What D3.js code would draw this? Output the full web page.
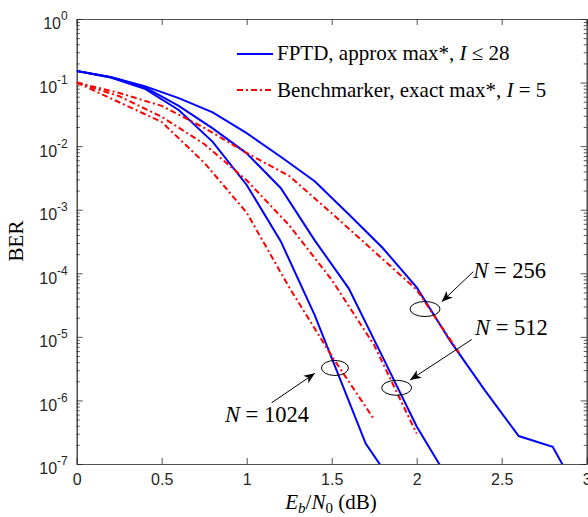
<!DOCTYPE html>
<html>
<head>
<meta charset="utf-8">
<script src="https://cdn.jsdelivr.net/npm/d3@7"></script>
<style>
  body { margin: 0; background: #fff; }
  svg { display: block; }
  .tick text { font-family: "Liberation Sans", Arial, sans-serif; fill: #262626; }
  .tex { font-family: "Liberation Serif", "Times New Roman", serif; fill: #000; }
</style>
</head>
<body>
<div id="chart"></div>
<script>
// FPTD, approx max*, I <= 28 (blue, solid)
const snrFptd256 = [0, 0.2, 0.4, 0.6, 0.8, 1.0, 1.2, 1.4, 1.6, 1.8, 2.0, 2.2, 2.4, 2.6, 2.8, 3.0];
const berFptd256 = [0.152, 0.123, 0.088, 0.057, 0.034, 0.016, 0.0068, 0.0028, 8.5e-4, 2.5e-4, 6e-5, 8.4e-6, 1.45e-6, 2.75e-7, 1.87e-7, 2e-8];
const snrFptd512 = [0, 0.2, 0.4, 0.6, 0.8, 1.0, 1.2, 1.4, 1.6, 1.8, 2.0, 2.2];
const berFptd512 = [0.152, 0.121, 0.085, 0.043, 0.019, 0.0077, 0.0022, 3.3e-4, 5.8e-5, 4.8e-6, 3.9e-7, 5e-8];
const snrFptd1024 = [0, 0.2, 0.4, 0.6, 0.8, 1.0, 1.2, 1.4, 1.7, 1.8];
const berFptd1024 = [0.152, 0.12, 0.08, 0.037, 0.0117, 0.00245, 3.2e-4, 2.2e-5, 2.1e-7, 8.5e-8];

// Benchmarker, exact max*, I = 5 (red, dash-dot)
const snrBench256 = [0, 0.25, 0.5, 0.75, 1.0, 1.25, 1.5, 1.75, 2.0, 2.25];
const berBench256 = [0.1, 0.0686, 0.043, 0.0194, 0.0078, 0.0034, 8.8e-4, 2.2e-4, 5.5e-5, 5.6e-6];
const snrBench512 = [0, 0.25, 0.5, 0.75, 1.0, 1.25, 1.5, 1.75, 2.0];
const berBench512 = [0.1, 0.061, 0.029, 0.0108, 0.0029, 5.7e-4, 7.9e-5, 7.4e-6, 3e-7];
const snrBench1024 = [0, 0.25, 0.5, 0.75, 1.0, 1.25, 1.5, 1.75];
const berBench1024 = [0.1, 0.049, 0.024, 0.0055, 9e-4, 6e-5, 5e-6, 5e-7];

const xTicks = [0, 0.5, 1, 1.5, 2, 2.5, 3];
const yExponents = [0, -1, -2, -3, -4, -5, -6, -7];

// annotation anchors, in data units
const noteLabels = ["256", "512", "1024"];
const ellipseSnr = [2.049, 1.882, 1.519];
const ellipseBer = [2.74e-5, 1.58e-6, 3.24e-6];
const labelSnr = [2.333, 2.343, 0.872];
const labelBer = [8.4e-5, 1.07e-5, 4.6e-7];
const arrowFromSnr = [2.333, 2.324, 1.147];
const arrowFromBer = [1.06e-4, 9.1e-6, 9.2e-7];
const arrowToSnr = [2.147, 1.961, 1.401];
const arrowToBer = [3.57e-5, 2.1e-6, 2.67e-6];

const width = 588, height = 517;
const margin = { left: 76.7, right: 1.3, top: 19, bottom: 53 };

const svg = d3.select("#chart").append("svg")
  .attr("width", width)
  .attr("height", height);

const x = d3.scaleLinear().domain([0, 3]).range([margin.left, width - margin.right]);
const y = d3.scaleLog().domain([1e-7, 1]).range([height - margin.bottom, margin.top]);

const defs = svg.append("defs");
defs.append("clipPath").attr("id", "clip")
  .append("rect")
  .attr("x", x(0)).attr("y", y(1))
  .attr("width", x(3) - x(0)).attr("height", y(1e-7) - y(1));

defs.append("marker")
  .attr("id", "head")
  .attr("markerUnits", "userSpaceOnUse")
  .attr("markerWidth", 14).attr("markerHeight", 14)
  .attr("viewBox", "-1 -7 14 14")
  .attr("refX", 11).attr("refY", 0)
  .attr("orient", "auto")
  .append("path")
  .attr("d", "M0,-4.5 L11,0 L0,4.5 L3,0 Z")
  .attr("fill", "#000");

// axes
const axisColor = "#262626";
const majorY = yExponents.map((e) => Math.pow(10, e));
const minorY = [];
yExponents.slice(1).forEach((e) => {
  for (let m = 2; m <= 9; ++m) minorY.push(m * Math.pow(10, e));
});

function styleAxis(g) {
  g.selectAll("path, line").attr("stroke", axisColor).attr("stroke-width", 0.8);
}

svg.append("g")
  .attr("transform", `translate(0,${y(1e-7)})`)
  .call(d3.axisBottom(x).tickValues(xTicks).tickSize(-6).tickSizeOuter(0).tickPadding(10)
    .tickFormat((d) => d))
  .call(styleAxis)
  .call((g) => g.selectAll("text").attr("font-size", 16));

svg.append("g")
  .attr("transform", `translate(0,${y(1)})`)
  .call(d3.axisTop(x).tickValues(xTicks).tickSize(-6).tickSizeOuter(0).tickFormat(""))
  .call(styleAxis);

const yLeft = svg.append("g")
  .attr("transform", `translate(${x(0)},0)`)
  .call(d3.axisLeft(y).tickValues(majorY).tickSize(-6).tickSizeOuter(0).tickPadding(9)
    .tickFormat(""))
  .call(styleAxis);

yLeft.selectAll(".tick text")
  .attr("font-size", 16)
  .attr("dy", "0.62em")
  .each(function (d) {
    const t = d3.select(this);
    t.append("tspan").text("10");
    t.append("tspan").attr("font-size", 12).attr("dy", "-0.75em")
      .text(String(Math.round(Math.log10(d))));
  });

svg.append("g")
  .attr("transform", `translate(${x(0)},0)`)
  .call(d3.axisLeft(y).tickValues(minorY).tickSize(-3).tickSizeOuter(0).tickFormat(""))
  .call(styleAxis);

svg.append("g")
  .attr("transform", `translate(${x(3)},0)`)
  .call(d3.axisRight(y).tickValues(majorY).tickSize(-6).tickSizeOuter(0).tickFormat(""))
  .call(styleAxis);

svg.append("g")
  .attr("transform", `translate(${x(3)},0)`)
  .call(d3.axisRight(y).tickValues(minorY).tickSize(-3).tickSizeOuter(0).tickFormat(""))
  .call(styleAxis);

// curves
const line = d3.line().x((d) => x(d[0])).y((d) => y(d[1]));
const zip = (a, b) => a.map((v, i) => [v, b[i]]);

const series = [
  { data: zip(snrFptd256, berFptd256), color: "#0000ff", dash: null },
  { data: zip(snrFptd512, berFptd512), color: "#0000ff", dash: null },
  { data: zip(snrFptd1024, berFptd1024), color: "#0000ff", dash: null },
  { data: zip(snrBench256, berBench256), color: "#ff0000", dash: "6,3,2,3" },
  { data: zip(snrBench512, berBench512), color: "#ff0000", dash: "6,3,2,3" },
  { data: zip(snrBench1024, berBench1024), color: "#ff0000", dash: "6,3,2,3" },
];

svg.append("g")
  .attr("clip-path", "url(#clip)")
  .selectAll("path")
  .data(series)
  .enter()
  .append("path")
  .attr("d", (d) => line(d.data))
  .attr("fill", "none")
  .attr("stroke", (d) => d.color)
  .attr("stroke-width", 2)
  .attr("stroke-dasharray", (d) => d.dash);

// legend
const legend = svg.append("g");
const legendRows = [
  { color: "#0000ff", dash: null, yPos: 54 },
  { color: "#ff0000", dash: "6,3,2,3", yPos: 90 },
];
legend.selectAll("line")
  .data(legendRows)
  .enter()
  .append("line")
  .attr("x1", 237).attr("x2", 273)
  .attr("y1", (d) => d.yPos).attr("y2", (d) => d.yPos)
  .attr("stroke", (d) => d.color)
  .attr("stroke-width", 2)
  .attr("stroke-dasharray", (d) => d.dash);

const l1 = legend.append("text").attr("class", "tex").attr("x", 277).attr("y", 60).attr("font-size", 21);
l1.append("tspan").text("FPTD, approx max*, ");
l1.append("tspan").attr("font-style", "italic").text("I");
l1.append("tspan").text(" \u2264 28");

const l2 = legend.append("text").attr("class", "tex").attr("x", 277).attr("y", 96.5).attr("font-size", 21);
l2.append("tspan").text("Benchmarker, exact max*, ");
l2.append("tspan").attr("font-style", "italic").text("I");
l2.append("tspan").text(" = 5");

// annotations
const notes = svg.append("g");
noteLabels.forEach((lab, i) => {
  notes.append("ellipse")
    .attr("cx", x(ellipseSnr[i])).attr("cy", y(ellipseBer[i]))
    .attr("rx", i === 2 ? 13.5 : 15).attr("ry", 7.5)
    .attr("fill", "none").attr("stroke", "#000").attr("stroke-width", 1);
  notes.append("line")
    .attr("x1", x(arrowFromSnr[i])).attr("y1", y(arrowFromBer[i]))
    .attr("x2", x(arrowToSnr[i])).attr("y2", y(arrowToBer[i]))
    .attr("stroke", "#000").attr("stroke-width", 1)
    .attr("marker-end", "url(#head)");
  const t = notes.append("text").attr("class", "tex")
    .attr("x", x(labelSnr[i])).attr("y", y(labelBer[i]))
    .attr("font-size", 22.5);
  t.append("tspan").attr("font-style", "italic").text("N");
  t.append("tspan").text(" = " + lab);
});

// axis labels
const xl = svg.append("text").attr("class", "tex")
  .attr("x", 331).attr("y", 509)
  .attr("text-anchor", "middle")
  .attr("font-size", 21);
xl.append("tspan").attr("font-style", "italic").text("E");
xl.append("tspan").attr("font-style", "italic").attr("font-size", 15).attr("dy", 4).text("b");
xl.append("tspan").attr("dy", -4).text("/");
xl.append("tspan").attr("font-style", "italic").text("N");
xl.append("tspan").attr("font-size", 15).attr("dy", 4).text("0");
xl.append("tspan").attr("dy", -4).text(" (dB)");

svg.append("text").attr("class", "tex")
  .attr("transform", "translate(23,241) rotate(-90)")
  .attr("text-anchor", "middle")
  .attr("font-size", 21)
  .text("BER");
</script>
</body>
</html>
